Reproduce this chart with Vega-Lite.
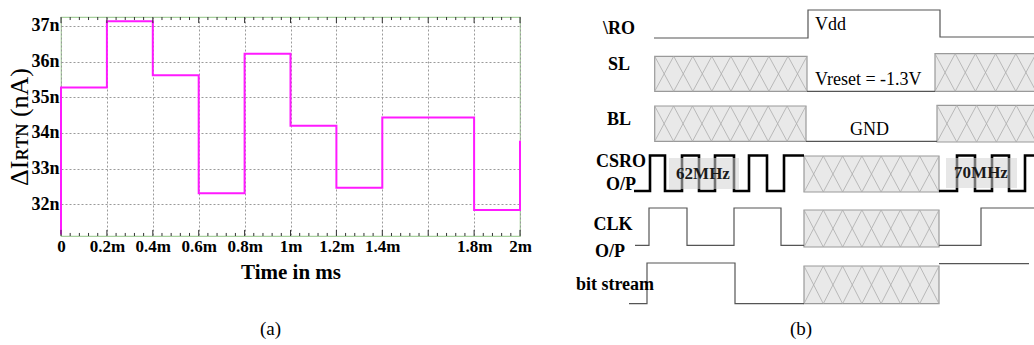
{
  "$schema": "https://vega.github.io/schema/vega-lite/v6.json",
  "background": "white",
  "padding": {"left": 5, "top": 7, "right": 0, "bottom": 0},
  "spacing": 46,
  "bounds": "flush",
  "config": {"font": "Liberation Serif", "view": {"stroke": null}},
  "datasets": {
    "rtn": [
      {"k": 0, "t": 0, "i": 31.15},
      {"k": 1, "t": 0, "i": 35.27},
      {"k": 2, "t": 0.2, "i": 37.13},
      {"k": 3, "t": 0.4, "i": 35.62},
      {"k": 4, "t": 0.6, "i": 32.31},
      {"k": 5, "t": 0.8, "i": 36.22},
      {"k": 6, "t": 1.0, "i": 34.2},
      {"k": 7, "t": 1.2, "i": 32.46},
      {"k": 8, "t": 1.4, "i": 34.43},
      {"k": 9, "t": 1.8, "i": 31.84},
      {"k": 10, "t": 2.0, "i": 33.78}
    ],
    "ticks": [
      {"t": 0, "kind": "major"}, {"t": 0.2, "kind": "major"}, {"t": 0.4, "kind": "major"}, {"t": 0.6, "kind": "major"},
      {"t": 0.8, "kind": "major"}, {"t": 1.0, "kind": "major"}, {"t": 1.2, "kind": "major"}, {"t": 1.4, "kind": "major"},
      {"t": 1.6, "kind": "major"}, {"t": 1.8, "kind": "major"}, {"t": 2.0, "kind": "major"},
      {"t": 0.04, "kind": "minor"}, {"t": 0.08, "kind": "minor"}, {"t": 0.12, "kind": "minor"}, {"t": 0.16, "kind": "minor"},
      {"t": 0.24, "kind": "minor"}, {"t": 0.28, "kind": "minor"}, {"t": 0.32, "kind": "minor"}, {"t": 0.36, "kind": "minor"},
      {"t": 0.44, "kind": "minor"}, {"t": 0.48, "kind": "minor"}, {"t": 0.52, "kind": "minor"}, {"t": 0.56, "kind": "minor"},
      {"t": 0.64, "kind": "minor"}, {"t": 0.68, "kind": "minor"}, {"t": 0.72, "kind": "minor"}, {"t": 0.76, "kind": "minor"},
      {"t": 0.84, "kind": "minor"}, {"t": 0.88, "kind": "minor"}, {"t": 0.92, "kind": "minor"}, {"t": 0.96, "kind": "minor"},
      {"t": 1.04, "kind": "minor"}, {"t": 1.08, "kind": "minor"}, {"t": 1.12, "kind": "minor"}, {"t": 1.16, "kind": "minor"},
      {"t": 1.24, "kind": "minor"}, {"t": 1.28, "kind": "minor"}, {"t": 1.32, "kind": "minor"}, {"t": 1.36, "kind": "minor"},
      {"t": 1.44, "kind": "minor"}, {"t": 1.48, "kind": "minor"}, {"t": 1.52, "kind": "minor"}, {"t": 1.56, "kind": "minor"},
      {"t": 1.64, "kind": "minor"}, {"t": 1.68, "kind": "minor"}, {"t": 1.72, "kind": "minor"}, {"t": 1.76, "kind": "minor"},
      {"t": 1.84, "kind": "minor"}, {"t": 1.88, "kind": "minor"}, {"t": 1.92, "kind": "minor"}, {"t": 1.96, "kind": "minor"}
    ],
    "boxes": [
      {"t": 8.87, "t2": 24.1, "v": 22.07, "v2": 25.57},
      {"t": 36.9, "t2": 47.5, "v": 22.07, "v2": 25.83},
      {"t": 8.87, "t2": 24.0, "v": 17.07, "v2": 20.6},
      {"t": 37.1, "t2": 47.5, "v": 17.0, "v2": 20.67},
      {"t": 23.8, "t2": 37.3, "v": 12.0, "v2": 15.6},
      {"t": 23.8, "t2": 37.3, "v": 6.5, "v2": 10.2},
      {"t": 23.8, "t2": 37.3, "v": 0.83, "v2": 4.6}
    ],
    "hatch": [
      {"t": 8.87, "t2": 10.77, "v": 22.07, "v2": 25.57},
      {"t": 10.77, "t2": 12.68, "v": 22.07, "v2": 25.57},
      {"t": 12.68, "t2": 14.58, "v": 22.07, "v2": 25.57},
      {"t": 14.58, "t2": 16.49, "v": 22.07, "v2": 25.57},
      {"t": 16.49, "t2": 18.39, "v": 22.07, "v2": 25.57},
      {"t": 18.39, "t2": 20.29, "v": 22.07, "v2": 25.57},
      {"t": 20.29, "t2": 22.2, "v": 22.07, "v2": 25.57},
      {"t": 22.2, "t2": 24.1, "v": 22.07, "v2": 25.57},
      {"t": 36.9, "t2": 38.92, "v": 22.07, "v2": 25.83},
      {"t": 38.92, "t2": 40.94, "v": 22.07, "v2": 25.83},
      {"t": 40.94, "t2": 42.96, "v": 22.07, "v2": 25.83},
      {"t": 42.96, "t2": 44.98, "v": 22.07, "v2": 25.83},
      {"t": 44.98, "t2": 47.0, "v": 22.07, "v2": 25.83},
      {"t": 8.87, "t2": 10.76, "v": 17.07, "v2": 20.6},
      {"t": 10.76, "t2": 12.65, "v": 17.07, "v2": 20.6},
      {"t": 12.65, "t2": 14.54, "v": 17.07, "v2": 20.6},
      {"t": 14.54, "t2": 16.43, "v": 17.07, "v2": 20.6},
      {"t": 16.43, "t2": 18.33, "v": 17.07, "v2": 20.6},
      {"t": 18.33, "t2": 20.22, "v": 17.07, "v2": 20.6},
      {"t": 20.22, "t2": 22.11, "v": 17.07, "v2": 20.6},
      {"t": 22.11, "t2": 24.0, "v": 17.07, "v2": 20.6},
      {"t": 37.1, "t2": 39.08, "v": 17.0, "v2": 20.67},
      {"t": 39.08, "t2": 41.06, "v": 17.0, "v2": 20.67},
      {"t": 41.06, "t2": 43.04, "v": 17.0, "v2": 20.67},
      {"t": 43.04, "t2": 45.02, "v": 17.0, "v2": 20.67},
      {"t": 45.02, "t2": 47.0, "v": 17.0, "v2": 20.67},
      {"t": 23.8, "t2": 25.73, "v": 12.0, "v2": 15.6},
      {"t": 25.73, "t2": 27.66, "v": 12.0, "v2": 15.6},
      {"t": 27.66, "t2": 29.59, "v": 12.0, "v2": 15.6},
      {"t": 29.59, "t2": 31.51, "v": 12.0, "v2": 15.6},
      {"t": 31.51, "t2": 33.44, "v": 12.0, "v2": 15.6},
      {"t": 33.44, "t2": 35.37, "v": 12.0, "v2": 15.6},
      {"t": 35.37, "t2": 37.3, "v": 12.0, "v2": 15.6},
      {"t": 23.8, "t2": 25.73, "v": 6.5, "v2": 10.2},
      {"t": 25.73, "t2": 27.66, "v": 6.5, "v2": 10.2},
      {"t": 27.66, "t2": 29.59, "v": 6.5, "v2": 10.2},
      {"t": 29.59, "t2": 31.51, "v": 6.5, "v2": 10.2},
      {"t": 31.51, "t2": 33.44, "v": 6.5, "v2": 10.2},
      {"t": 33.44, "t2": 35.37, "v": 6.5, "v2": 10.2},
      {"t": 35.37, "t2": 37.3, "v": 6.5, "v2": 10.2},
      {"t": 23.8, "t2": 25.73, "v": 0.83, "v2": 4.6},
      {"t": 25.73, "t2": 27.66, "v": 0.83, "v2": 4.6},
      {"t": 27.66, "t2": 29.59, "v": 0.83, "v2": 4.6},
      {"t": 29.59, "t2": 31.51, "v": 0.83, "v2": 4.6},
      {"t": 31.51, "t2": 33.44, "v": 0.83, "v2": 4.6},
      {"t": 33.44, "t2": 35.37, "v": 0.83, "v2": 4.6},
      {"t": 35.37, "t2": 37.3, "v": 0.83, "v2": 4.6}
    ],
    "waves": [
      {"s": "RO", "t": 8.8, "v": 27.4},
      {"s": "RO", "t": 24.2, "v": 30.2},
      {"s": "RO", "t": 37.4, "v": 27.5},
      {"s": "RO", "t": 47.5, "v": 27.5},
      {"s": "SL", "t": 24.1, "v": 22.07},
      {"s": "SL", "t": 36.9, "v": 22.07},
      {"s": "BL", "t": 24.0, "v": 17.07},
      {"s": "BL", "t": 37.1, "v": 17.07},
      {"s": "CLK1", "t": 6.9, "v": 6.67},
      {"s": "CLK1", "t": 8.3, "v": 10.4},
      {"s": "CLK1", "t": 12.1, "v": 6.67},
      {"s": "CLK1", "t": 16.8, "v": 10.4},
      {"s": "CLK1", "t": 21.5, "v": 6.67},
      {"s": "CLK1", "t": 23.8, "v": 6.67},
      {"s": "CLK2", "t": 37.3, "v": 6.67},
      {"s": "CLK2", "t": 41.5, "v": 10.4},
      {"s": "CLK2", "t": 47.5, "v": 10.4},
      {"s": "OP1", "t": 6.3, "v": 0.83},
      {"s": "OP1", "t": 8.1, "v": 4.9},
      {"s": "OP1", "t": 16.9, "v": 0.83},
      {"s": "OP1", "t": 23.8, "v": 0.83},
      {"s": "OP2", "t": 37.3, "v": 4.83},
      {"s": "OP2", "t": 46.3, "v": 4.83}
    ],
    "csro": [
      {"s": "A", "t": 6.8, "v": 12.1},
      {"s": "A", "t": 8.4, "v": 15.65},
      {"s": "A", "t": 9.9, "v": 12.1},
      {"s": "A", "t": 11.6, "v": 15.65},
      {"s": "A", "t": 13.3, "v": 12.1},
      {"s": "A", "t": 14.9, "v": 15.65},
      {"s": "A", "t": 16.8, "v": 12.1},
      {"s": "A", "t": 18.3, "v": 15.65},
      {"s": "A", "t": 20.1, "v": 12.1},
      {"s": "A", "t": 21.8, "v": 15.65},
      {"s": "A", "t": 23.8, "v": 15.65},
      {"s": "B", "t": 37.3, "v": 12.1},
      {"s": "B", "t": 39.1, "v": 15.65},
      {"s": "B", "t": 40.9, "v": 12.1},
      {"s": "B", "t": 42.6, "v": 15.65},
      {"s": "B", "t": 44.3, "v": 12.1},
      {"s": "B", "t": 45.9, "v": 15.65},
      {"s": "B", "t": 47.5, "v": 15.65}
    ],
    "tags": [
      {"txt": "62MHz", "t": 10.3, "t2": 17.3, "v": 12.3, "v2": 15.4, "c": 13.7, "m": 13.85},
      {"txt": "70MHz", "t": 38.0, "t2": 45.1, "v": 12.4, "v2": 15.4, "c": 41.5, "m": 13.9}
    ],
    "signals": [
      {"txt": "\\RO", "t": 5.3, "v": 28.3},
      {"txt": "SL", "t": 5.3, "v": 24.7},
      {"txt": "BL", "t": 5.3, "v": 19.2},
      {"txt": "CSRO", "t": 5.5, "v": 15.0},
      {"txt": "O/P", "t": 5.5, "v": 12.7},
      {"txt": "CLK", "t": 4.7, "v": 8.7},
      {"txt": "O/P", "t": 4.4, "v": 6.0},
      {"txt": "bit stream", "t": 4.9, "v": 2.7}
    ],
    "notes": [
      {"txt": "Vdd", "t": 24.9, "v": 28.7},
      {"txt": "Vreset = -1.3V", "t": 24.9, "v": 23.2},
      {"txt": "GND", "t": 28.4, "v": 18.2}
    ]
  },
  "hconcat": [
    {
      "width": 459,
      "height": 219,
      "view": {"stroke": "#a6cf9c", "strokeWidth": 1.2},
      "title": {"text": "(a)", "orient": "bottom", "anchor": "middle", "dx": -20, "font": "Liberation Serif", "fontSize": 19, "fontWeight": "normal", "color": "#000", "offset": 38},
      "layer": [
        {
          "data": {"name": "rtn"},
          "mark": {"type": "line", "interpolate": "step-after", "color": "#ff1aff", "strokeWidth": 2},
          "encoding": {
            "order": {"field": "k", "type": "quantitative"},
            "x": {
              "field": "t", "type": "quantitative",
              "scale": {"domain": [0, 2], "nice": false, "zero": false},
              "axis": {
                "orient": "bottom",
                "values": [0, 0.2, 0.4, 0.6, 0.8, 1, 1.2, 1.4, 1.6, 1.8, 2],
                "labelExpr": "datum.value == 0 ? '0' : datum.value == 1.6 ? '' : datum.value + 'm'",
                "labelFont": "Liberation Serif", "labelFontWeight": "bold", "labelFontSize": 17, "labelColor": "#000",
                "labelPadding": 2, "labelFlush": false, "labelOverlap": false,
                "ticks": false, "domain": false,
                "grid": true, "gridColor": "#9a9a9a", "gridDash": [2, 2], "gridWidth": 1,
                "title": "Time in ms", "titleFont": "Liberation Serif", "titleFontSize": 21, "titleFontWeight": "bold", "titleColor": "#000", "titlePadding": 7
              }
            },
            "y": {
              "field": "i", "type": "quantitative",
              "scale": {"domain": [31.11, 37.25], "nice": false, "zero": false},
              "axis": {
                "values": [32, 33, 34, 35, 36, 37],
                "labelExpr": "datum.value + 'n'",
                "labelFont": "Liberation Serif", "labelFontWeight": "bold", "labelFontSize": 18, "labelColor": "#000",
                "labelPadding": 2,
                "ticks": false, "domain": false,
                "grid": true, "gridColor": "#9a9a9a", "gridDash": [2, 2], "gridWidth": 1,
                "title": "ΔIʀᴛɴ (nA)", "titleFont": "Liberation Serif", "titleFontSize": 26, "titleFontWeight": "normal", "titleColor": "#000",
                "titlePadding": 2, "minExtent": 27, "maxExtent": 27
              }
            }
          }
        },
        {
          "data": {"name": "ticks"},
          "transform": [{"filter": "datum.kind == 'major'"}],
          "mark": {"type": "rule", "color": "#333", "strokeWidth": 1},
          "encoding": {
            "x": {"field": "t", "type": "quantitative"},
            "y": {"datum": 31.11, "type": "quantitative"},
            "y2": {"datum": 31.28}
          }
        },
        {
          "data": {"name": "ticks"},
          "transform": [{"filter": "datum.kind == 'minor'"}],
          "mark": {"type": "rule", "color": "#333", "strokeWidth": 1},
          "encoding": {
            "x": {"field": "t", "type": "quantitative"},
            "y": {"datum": 31.11, "type": "quantitative"},
            "y2": {"datum": 31.195}
          }
        },
        {
          "data": {"name": "ticks"},
          "transform": [{"filter": "datum.kind == 'major'"}],
          "mark": {"type": "rule", "color": "#333", "strokeWidth": 1},
          "encoding": {
            "x": {"field": "t", "type": "quantitative"},
            "y": {"datum": 37.25, "type": "quantitative"},
            "y2": {"datum": 37.08}
          }
        },
        {
          "data": {"name": "ticks"},
          "transform": [{"filter": "datum.kind == 'minor'"}],
          "mark": {"type": "rule", "color": "#333", "strokeWidth": 1},
          "encoding": {
            "x": {"field": "t", "type": "quantitative"},
            "y": {"datum": 37.25, "type": "quantitative"},
            "y2": {"datum": 37.165}
          }
        }
      ]
    },
    {
      "width": 470,
      "height": 295,
      "view": {"stroke": null},
      "title": {"text": "(b)", "orient": "bottom", "anchor": "middle", "font": "Liberation Serif", "fontSize": 19, "fontWeight": "normal", "color": "#000", "offset": 8},
      "encoding": {
        "x": {"field": "t", "type": "quantitative", "scale": {"domain": [0, 47], "nice": false, "zero": false}, "axis": null},
        "y": {"field": "v", "type": "quantitative", "scale": {"domain": [0, 29.5], "nice": false, "zero": false}, "axis": null}
      },
      "layer": [
        {
          "data": {"name": "boxes"},
          "mark": {"type": "rect", "fill": "#e9e9e9", "stroke": "#9a9a9a", "strokeWidth": 1.2},
          "encoding": {"x2": {"field": "t2"}, "y2": {"field": "v2"}}
        },
        {
          "data": {"name": "hatch"},
          "mark": {"type": "rule", "color": "#acacac", "strokeWidth": 0.8},
          "encoding": {"x2": {"field": "t2"}, "y2": {"field": "v2"}}
        },
        {
          "data": {"name": "hatch"},
          "mark": {"type": "rule", "color": "#acacac", "strokeWidth": 0.8},
          "encoding": {"y": {"field": "v2", "type": "quantitative"}, "x2": {"field": "t2"}, "y2": {"field": "v"}}
        },
        {
          "data": {"name": "waves"},
          "mark": {"type": "line", "interpolate": "step-after", "color": "#555", "strokeWidth": 1.2},
          "encoding": {"detail": {"field": "s"}}
        },
        {
          "data": {"name": "csro"},
          "mark": {"type": "line", "interpolate": "step-after", "color": "#000", "strokeWidth": 2.6},
          "encoding": {"detail": {"field": "s"}}
        },
        {
          "data": {"name": "tags"},
          "mark": {"type": "rect", "fill": "#d4d4d4", "opacity": 0.55},
          "encoding": {"x2": {"field": "t2"}, "y2": {"field": "v2"}}
        },
        {
          "data": {"name": "tags"},
          "mark": {"type": "text", "font": "Liberation Serif", "fontWeight": "bold", "fontSize": 17, "color": "#1a1a1a", "align": "center", "baseline": "middle"},
          "encoding": {"x": {"field": "c", "type": "quantitative"}, "y": {"field": "m", "type": "quantitative"}, "text": {"field": "txt"}}
        },
        {
          "data": {"name": "signals"},
          "mark": {"type": "text", "font": "Liberation Serif", "fontWeight": "bold", "fontSize": 18, "color": "#000", "align": "center", "baseline": "middle"},
          "encoding": {"text": {"field": "txt"}}
        },
        {
          "data": {"name": "notes"},
          "mark": {"type": "text", "font": "Liberation Serif", "fontWeight": "normal", "fontSize": 18, "color": "#000", "align": "left", "baseline": "middle"},
          "encoding": {"text": {"field": "txt"}}
        }
      ]
    }
  ]
}
